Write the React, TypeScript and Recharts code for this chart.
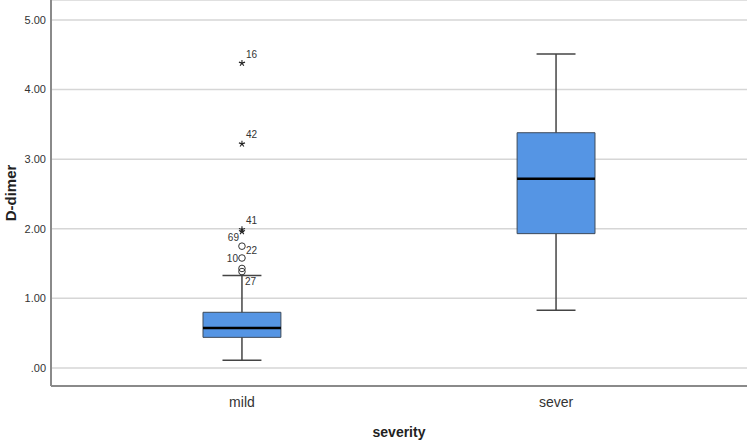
import React from 'react';
import {
  ComposedChart,
  XAxis,
  YAxis,
  CartesianGrid,
  ReferenceArea,
  ReferenceLine,
  Scatter,
} from 'recharts';

const categories = ['mild', 'sever'];
const minValues = [0.11, 0.83];
const q1Values = [0.44, 1.93];
const medianValues = [0.575, 2.72];
const q3Values = [0.8, 3.38];
const maxValues = [1.33, 4.51];

const outlierCategory = [0, 0, 0, 0, 0, 0, 0, 0];
const outlierValues = [1.385, 1.43, 1.58, 1.75, 1.96, 1.99, 3.22, 4.38];
const outlierIds = ['27', '', '10', '22', '69', '41', '42', '16'];
const outlierKinds = ['circle', 'circle', 'circle', 'circle', 'star', 'star', 'star', 'star'];

const yTicks = [0, 1, 2, 3, 4, 5];

// label offsets (style only)
const labelOffsets: Record<string, { dx: number; dy: number; anchor: string }> = {
  '27': { dx: 3, dy: 10, anchor: 'start' },
  '10': { dx: -4, dy: 0, anchor: 'end' },
  '22': { dx: 4, dy: 4, anchor: 'start' },
  '69': { dx: -3, dy: 6, anchor: 'end' },
  '41': { dx: 4, dy: -9, anchor: 'start' },
  '42': { dx: 4, dy: -9, anchor: 'start' },
  '16': { dx: 4, dy: -9, anchor: 'start' },
};

const outliers = outlierValues.map((v, i) => ({
  x: outlierCategory[i],
  y: v,
  id: outlierIds[i],
  kind: outlierKinds[i],
}));

const BOX_HALF = 0.124;
const CAP_HALF = 0.062;
const FILL = '#5595e4';

const OutlierShape = (props: any) => {
  const { cx, cy, payload } = props;
  if (cx == null || cy == null) return null;
  const off = labelOffsets[payload.id];
  const els: any[] = [];
  if (payload.kind === 'circle') {
    els.push(<circle key="c" cx={cx} cy={cy} r={3.3} fill="none" stroke="#333" strokeWidth={1} />);
  } else {
    const r = 3.2;
    for (let k = 0; k < 5; k++) {
      const a = (-90 + k * 72) * (Math.PI / 180);
      els.push(
        <line key={'s' + k} x1={cx} y1={cy} x2={cx + r * Math.cos(a)} y2={cy + r * Math.sin(a)} stroke="#222" strokeWidth={1.1} />
      );
    }
  }
  if (payload.id && off) {
    els.push(
      <text key="t" x={cx + off.dx} y={cy + off.dy} dy="0.35em" textAnchor={off.anchor} fontSize={10} fill="#333" fontFamily="Liberation Sans, Arial, sans-serif">
        {payload.id}
      </text>
    );
  }
  return <g>{els}</g>;
};

export default function App() {
  return (
    <div style={{ position: 'absolute', left: 0, top: 0, background: '#fff' }}>
      <ComposedChart
        width={749}
        height={440}
        margin={{ top: 0, right: 2, bottom: 0, left: 0 }}
        style={{ fontFamily: 'Liberation Sans, Arial, sans-serif' }}
      >
        <CartesianGrid vertical={false} stroke="#d6d6d6" strokeWidth={1.5} />
        <XAxis
          type="number"
          dataKey="x"
          domain={[-0.608, 1.608]}
          ticks={[0, 1]}
          tickFormatter={(v: number) => categories[v] ?? ''}
          height={54}
          tickLine={false}
          tickSize={6}
          tickMargin={5}
          axisLine={{ stroke: '#8a8a8a', strokeWidth: 2 }}
          tick={{ fill: '#333', fontSize: 14 }}
          label={{ value: 'severity', position: 'insideBottom', offset: 3, fill: '#222', fontSize: 14, fontWeight: 'bold' }}
          allowDataOverflow
        />
        <YAxis
          type="number"
          dataKey="y"
          domain={[-0.259, 5.287]}
          ticks={yTicks}
          tickFormatter={(v: number) => (v === 0 ? '.00' : v.toFixed(2))}
          width={51}
          tickLine={false}
          tickSize={5}
          tickMargin={0}
          axisLine={{ stroke: '#8a8a8a', strokeWidth: 2 }}
          tick={{ fill: '#333', fontSize: 11 }}
          label={{ value: 'D-dimer', angle: -90, position: 'insideLeft', offset: 11, fill: '#222', fontSize: 15, fontWeight: 'bold', style: { textAnchor: 'middle' } }}
          allowDataOverflow
        />
        {categories.map((c, i) => (
          <ReferenceLine
            key={'wl' + c}
            segment={[{ x: i, y: minValues[i] }, { x: i, y: q1Values[i] }]}
            stroke="#444"
            strokeWidth={1.5}
          />
        ))}
        {categories.map((c, i) => (
          <ReferenceLine
            key={'wu' + c}
            segment={[{ x: i, y: q3Values[i] }, { x: i, y: maxValues[i] }]}
            stroke="#444"
            strokeWidth={1.5}
          />
        ))}
        {categories.map((c, i) => (
          <ReferenceLine
            key={'cl' + c}
            segment={[{ x: i - CAP_HALF, y: minValues[i] }, { x: i + CAP_HALF, y: minValues[i] }]}
            stroke="#444"
            strokeWidth={1.5}
          />
        ))}
        {categories.map((c, i) => (
          <ReferenceLine
            key={'cu' + c}
            segment={[{ x: i - CAP_HALF, y: maxValues[i] }, { x: i + CAP_HALF, y: maxValues[i] }]}
            stroke="#444"
            strokeWidth={1.5}
          />
        ))}
        {categories.map((c, i) => (
          <ReferenceArea
            key={'box' + c}
            x1={i - BOX_HALF}
            x2={i + BOX_HALF}
            y1={q1Values[i]}
            y2={q3Values[i]}
            fill={FILL}
            fillOpacity={1}
            stroke="#3d4a5a"
            strokeWidth={1}
          />
        ))}
        {categories.map((c, i) => (
          <ReferenceLine
            key={'med' + c}
            segment={[{ x: i - BOX_HALF, y: medianValues[i] }, { x: i + BOX_HALF, y: medianValues[i] }]}
            stroke="#000"
            strokeWidth={2.5}
          />
        ))}
        <Scatter data={outliers} dataKey="y" isAnimationActive={false} shape={<OutlierShape />} />
      </ComposedChart>
    </div>
  );
}
